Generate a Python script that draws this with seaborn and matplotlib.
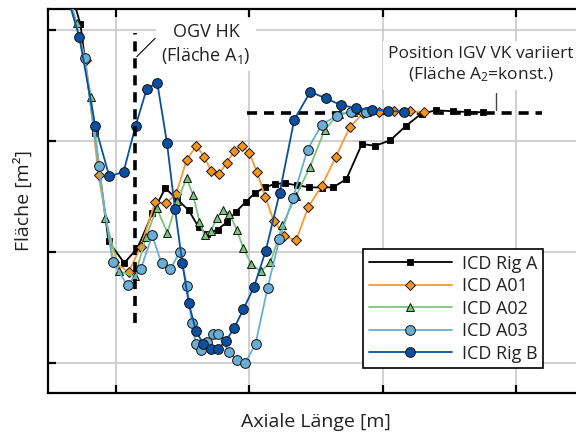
import matplotlib
matplotlib.use("Agg")
import matplotlib.pyplot as plt
import seaborn as sns
import numpy as np

# ---------------- data (axis units, grid lines at integers) ----------------
x_rig_a = [0.628, 0.735, 0.841, 0.946, 1.064, 1.163, 1.274, 1.371, 1.458, 1.546, 1.620, 1.680,
           1.763, 1.831, 1.898, 1.972, 2.040, 2.117, 2.196, 2.269, 2.358, 2.450, 2.544, 2.629,
           2.728, 2.844, 2.943, 3.056, 3.172, 3.291, 3.402, 3.529, 3.634, 3.754]
y_rig_a = [3.499, 3.057, 2.073, 1.094, 0.900, 1.035, 1.347, 1.575, 1.477, 1.376, 1.225, 1.162,
           1.202, 1.267, 1.360, 1.448, 1.529, 1.583, 1.615, 1.619, 1.601, 1.583, 1.581, 1.583,
           1.658, 1.974, 1.958, 2.007, 2.136, 2.249, 2.278, 2.269, 2.263, 2.260]

x_a01 = [0.643, 0.774, 0.871, 0.984, 1.096, 1.188, 1.294, 1.373, 1.452, 1.531, 1.604, 1.662,
         1.715, 1.772, 1.830, 1.888, 1.942, 2.001, 2.058, 2.119, 2.182, 2.264, 2.351, 2.443,
         2.543, 2.649, 2.754, 2.855, 2.972, 3.088, 3.201, 3.312]
y_a01 = [3.346, 2.732, 1.690, 0.909, 0.819, 1.047, 1.446, 1.437, 1.521, 1.831, 1.958, 1.861,
         1.730, 1.703, 1.800, 1.912, 1.958, 1.893, 1.721, 1.500, 1.283, 1.141, 1.103, 1.408,
         1.595, 1.859, 2.130, 2.251, 2.267, 2.272, 2.269, 2.261]

x_a02 = [0.613, 0.706, 0.815, 0.921, 1.028, 1.143, 1.227, 1.307, 1.386, 1.461, 1.530, 1.579,
         1.627, 1.665, 1.714, 1.756, 1.804, 1.852, 1.906, 1.956, 2.015, 2.085, 2.159, 2.249,
         2.351, 2.455, 2.564, 2.669, 2.774, 2.879]
y_a02 = [3.454, 3.070, 2.401, 1.306, 0.823, 0.781, 1.134, 1.394, 1.175, 1.455, 1.667, 1.514,
         1.274, 1.148, 1.189, 1.306, 1.375, 1.342, 1.202, 1.032, 0.891, 0.823, 0.906, 1.243,
         1.509, 1.766, 2.100, 2.249, 2.263, 2.267]

x_a03 = [0.643, 0.766, 0.871, 0.976, 1.088, 1.187, 1.273, 1.343, 1.410, 1.478, 1.534, 1.570,
         1.601, 1.639, 1.682, 1.727, 1.764, 1.851, 1.907, 1.970, 2.047, 2.137, 2.225, 2.327,
         2.437, 2.542, 2.655, 2.761, 2.871]
y_a03 = [3.337, 2.752, 1.775, 0.909, 0.697, 0.843, 1.148, 0.898, 0.847, 0.995, 0.692, 0.358,
         0.169, 0.115, 0.184, 0.255, 0.255, 0.097, 0.024, -0.003, 0.169, 0.674, 1.112, 1.486,
         1.924, 2.147, 2.231, 2.261, 2.267]

x_rig_b = [0.643, 0.727, 0.847, 0.951, 1.058, 1.149, 1.232, 1.311, 1.384, 1.443, 1.499, 1.547,
           1.602, 1.656, 1.712, 1.764, 1.824, 1.886, 1.956, 2.036, 2.123, 2.227, 2.337, 2.457,
           2.572, 2.686, 2.801, 2.920, 3.037, 3.157]
y_rig_b = [3.283, 2.940, 2.132, 1.683, 1.721, 2.138, 2.472, 2.526, 1.980, 1.391, 0.897, 0.536,
           0.283, 0.169, 0.121, 0.124, 0.196, 0.310, 0.482, 0.686, 1.008, 1.529, 2.193, 2.445,
           2.387, 2.326, 2.297, 2.283, 2.275, 2.263]

labels = ["ICD Rig A", "ICD A01", "ICD A02", "ICD A03", "ICD Rig B"]

# reference lines / annotation anchors (axis units)
ogv_x = 1.145
ogv_y = [0.358, 2.976]
igv_y = 2.258
igv_x = [1.984, 4.193]

# ---------------- style ----------------
sns.set_style("white")
plt.rcParams['font.family'] = ['Open Sans', 'DejaVu Sans']
plt.rcParams['mathtext.fontset'] = 'custom'
plt.rcParams['mathtext.rm'] = 'Open Sans'
plt.rcParams['mathtext.it'] = 'Open Sans'
plt.rcParams['mathtext.bf'] = 'Open Sans'

fig = plt.figure(figsize=(5.76, 4.32), dpi=100)
ax = fig.add_axes([0.083, 0.091, 0.931, 0.8875])

series = [
    (x_rig_a, y_rig_a, "#000000", "#000000", "s", 4.5),
    (x_a01, y_a01, "#ff982e", "#f7941d", "D", 5.0),
    (x_a02, y_a02, "#7cc47d", "#7cc47d", "^", 5.5),
    (x_a03, y_a03, "#6aaed6", "#6aaed6", "o", 7.0),
    (x_rig_b, y_rig_b, "#0b4fa0", "#0b4fa0", "o", 7.0),
]

handles = []
for (xs, ys, lc, mc, mk, ms), lab in zip(series, labels):
    sns.lineplot(x=xs, y=ys, ax=ax, color=lc, marker=mk, markersize=ms,
                 markerfacecolor=mc, markeredgecolor="#111111", markeredgewidth=0.7,
                 linewidth=1.3, sort=False, estimator=None, zorder=3)
    h, = ax.plot([], [], color=lc, marker=mk, markersize=ms, markerfacecolor=mc,
                 markeredgecolor="#111111", markeredgewidth=0.7, linewidth=1.3, label=lab)
    handles.append(h)

# dashed reference lines
ax.plot([ogv_x, ogv_x], ogv_y, color="black", lw=2.6, ls=(0, (2.8, 1.9)), zorder=4)
ax.plot(igv_x, [igv_y, igv_y], color="black", lw=2.6, ls=(0, (2.8, 1.9)), zorder=2)

# annotations
ax.text(1.676, 2.876, "OGV HK\n(Fläche A$_1$)", ha="center", va="center", fontsize=13,
        linespacing=1.25, color="#222222",
        bbox=dict(facecolor="white", edgecolor="none", pad=4), zorder=5)
ax.plot([1.295, 1.157], [2.928, 2.762], color="black", lw=0.8, zorder=5)

ax.text(3.736, 2.687, "Position IGV VK variiert\n(Fläche A$_2$=konst.)", ha="center",
        va="center", fontsize=12.5, linespacing=1.3, color="#222222",
        bbox=dict(facecolor="white", edgecolor="none", pad=4), zorder=5)
ax.plot([3.846, 3.846], [2.281, 2.431], color="#444444", lw=1.0, zorder=5)

# axes
ax.set_xlim(0.491, 4.508)
ax.set_ylim(-0.271, 3.190)
ax.set_xticks([1, 2, 3, 4])
ax.set_yticks([0, 1, 2, 3])
ax.set_xticklabels([])
ax.set_yticklabels([])
ax.grid(True, color="#c4c4c4", lw=1.1)
ax.set_axisbelow(True)
ax.tick_params(direction="in", length=6, width=1.6, top=True, bottom=True, left=True,
               right=False, colors="black")
for s in ["left", "bottom", "top", "right"]:
    ax.spines[s].set_color("black")
    ax.spines[s].set_linewidth(1.6)
ax.spines["right"].set_visible(False)

ax.set_xlabel("Axiale Länge [m]", fontsize=14, labelpad=11, color="#222222")
ax.set_ylabel("Fläche [m²]", fontsize=14, labelpad=7, color="#222222")

leg = ax.legend(handles=handles, loc="lower left", bbox_to_anchor=(0.588, 0.064),
                fontsize=13, handlelength=4.6, handletextpad=0.6, labelspacing=0.25,
                borderpad=0.3, frameon=True, fancybox=False, framealpha=1,
                edgecolor="black", borderaxespad=0)
leg.get_frame().set_linewidth(1.2)
for t in leg.get_texts():
    t.set_color("#222222")

fig.savefig("out.png", dpi=100)
